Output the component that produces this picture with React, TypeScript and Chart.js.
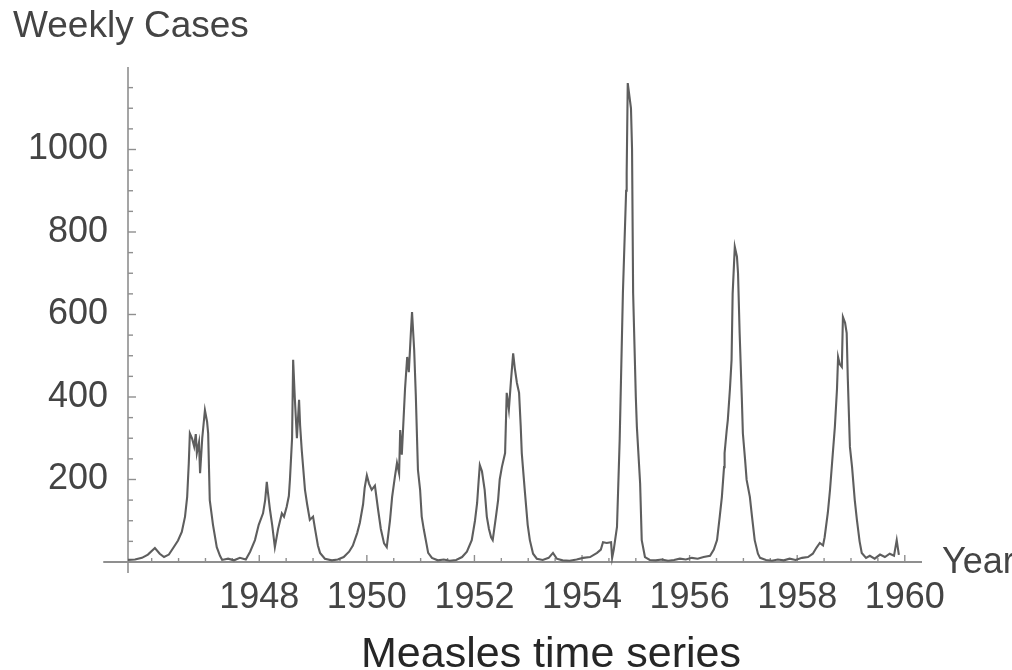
import React, { useEffect, useRef } from 'react';
import { Chart, registerables } from 'chart.js';

Chart.register(...registerables);

// Weekly measles cases (time in years)
const YEARS = [
  1945.56, 1945.69, 1945.82, 1945.93, 1946.06, 1946.15, 1946.23, 1946.32, 1946.40, 1946.49,
  1946.56, 1946.62, 1946.66, 1946.69, 1946.71, 1946.75, 1946.79, 1946.82, 1946.84, 1946.88,
  1946.90, 1946.94, 1946.99, 1947.03, 1947.05, 1947.08, 1947.14, 1947.21, 1947.27, 1947.31,
  1947.42, 1947.53, 1947.64, 1947.75, 1947.83, 1947.92, 1947.99, 1948.07, 1948.11, 1948.14,
  1948.16, 1948.20, 1948.24, 1948.29, 1948.35, 1948.42, 1948.46, 1948.51, 1948.55, 1948.57,
  1948.61, 1948.63, 1948.66, 1948.70, 1948.74, 1948.76, 1948.79, 1948.85, 1948.89, 1948.94,
  1949.00, 1949.04, 1949.09, 1949.13, 1949.22, 1949.35, 1949.46, 1949.57, 1949.67, 1949.74,
  1949.82, 1949.87, 1949.93, 1949.96, 1950.00, 1950.04, 1950.09, 1950.15, 1950.21, 1950.26,
  1950.32, 1950.37, 1950.43, 1950.47, 1950.52, 1950.56, 1950.60, 1950.62, 1950.65, 1950.71,
  1950.75, 1950.78, 1950.82, 1950.84, 1950.88, 1950.91, 1950.95, 1950.99, 1951.02, 1951.06,
  1951.14, 1951.21, 1951.32, 1951.43, 1951.54, 1951.66, 1951.77, 1951.86, 1951.95, 1952.01,
  1952.05, 1952.08, 1952.10, 1952.14, 1952.19, 1952.23, 1952.27, 1952.31, 1952.34, 1952.40,
  1952.44, 1952.47, 1952.51, 1952.57, 1952.60, 1952.64, 1952.68, 1952.72, 1952.75, 1952.79,
  1952.83, 1952.86, 1952.88, 1952.94, 1952.99, 1953.03, 1953.09, 1953.16, 1953.27, 1953.38,
  1953.46, 1953.53, 1953.64, 1953.77, 1953.90, 1954.02, 1954.15, 1954.28, 1954.35, 1954.39,
  1954.46, 1954.54, 1954.56, 1954.59, 1954.65, 1954.70, 1954.76, 1954.82, 1954.83, 1954.85,
  1954.91, 1954.93, 1954.95, 1955.00, 1955.02, 1955.08, 1955.11, 1955.17, 1955.26, 1955.37,
  1955.48, 1955.60, 1955.71, 1955.82, 1955.93, 1956.04, 1956.15, 1956.26, 1956.38, 1956.45,
  1956.51, 1956.56, 1956.60, 1956.64, 1956.65, 1956.69, 1956.71, 1956.75, 1956.78, 1956.80,
  1956.84, 1956.88, 1956.90, 1956.93, 1956.97, 1956.99, 1957.03, 1957.06, 1957.12, 1957.16,
  1957.21, 1957.27, 1957.31, 1957.42, 1957.53, 1957.64, 1957.75, 1957.86, 1957.97, 1958.09,
  1958.20, 1958.29, 1958.36, 1958.42, 1958.48, 1958.51, 1958.57, 1958.61, 1958.66, 1958.70,
  1958.74, 1958.76, 1958.79, 1958.83, 1958.85, 1958.89, 1958.92, 1958.94, 1958.98, 1959.02,
  1959.07, 1959.11, 1959.16, 1959.20, 1959.28, 1959.35, 1959.44, 1959.54, 1959.63, 1959.72,
  1959.80, 1959.85, 1959.89,
];

const CASES = [
  5, 6, 10, 18, 34, 20, 12, 18, 34, 52,
  73, 110, 158, 240, 312, 300, 280, 310, 264, 290,
  215, 300, 368, 340, 312, 150, 90, 36, 15, 5,
  8, 4, 10, 6, 25, 53, 90, 118, 150, 194,
  170, 126, 90, 36, 80, 118, 110, 134, 160, 199,
  300, 490, 400, 300, 393, 330, 271, 175, 140, 102,
  110, 78, 40, 22, 8, 4, 6, 12, 25, 40,
  70, 95, 140, 180, 210, 190, 175, 185, 126, 80,
  45, 36, 100, 158, 205, 240, 215, 320, 260, 420,
  497, 460, 560, 606, 514, 405, 223, 175, 110, 78,
  22, 10, 4, 6, 3, 5, 12, 25, 53, 100,
  143, 200, 235, 220, 175, 110, 80, 60, 53, 110,
  150, 200, 230, 264, 410, 370, 441, 506, 470, 434,
  410, 330, 264, 167, 90, 53, 20, 8, 5, 10,
  22, 8, 4, 3, 6, 10, 12, 22, 30, 48,
  46, 48, 10, 30, 85, 296, 652, 900, 943, 1161,
  1100, 1000, 652, 400, 327, 191, 53, 12, 5, 4,
  6, 3, 5, 8, 6, 10, 8, 12, 15, 30,
  53, 110, 158, 230, 264, 320, 344, 420, 490, 650,
  764, 740, 700, 555, 400, 312, 250, 199, 158, 110,
  53, 20, 10, 5, 3, 6, 4, 8, 5, 10,
  12, 20, 35, 46, 40, 60, 120, 175, 260, 327,
  420, 497, 480, 473, 594, 580, 555, 448, 279, 230,
  150, 102, 50, 22, 10, 15, 8, 18, 12, 20,
  15, 53, 17,
];

const X_TICKS = [1948, 1950, 1952, 1954, 1956, 1958, 1960];
const Y_TICKS = [200, 400, 600, 800, 1000];
const X_MINOR_STEP = 0.5;
const Y_MINOR_STEP = 50;

// axis extents (data units)
const X_MIN = 1945.56; // where the vertical axis sits
const X_MAX = 1960.32;
const X_AXIS_FROM = 1945.1;
const Y_MIN = -26.7;
const Y_MAX = 1200;

const TITLE = 'Measles time series';
const Y_LABEL = 'Weekly Cases';
const X_LABEL = 'Year';

const FONT = '"Liberation Sans", Arial, Helvetica, sans-serif';
const AXIS_COLOR = '#8f8f8f';
const TEXT_COLOR = '#444444';
const LINE_COLOR = '#5e5e5e';

const mathAxes = {
  id: 'mathAxes',
  beforeDatasetsDraw(chart: any) {
    const { ctx } = chart;
    const xs = chart.scales.x;
    const ys = chart.scales.y;
    const y0 = ys.getPixelForValue(0);
    const xA = xs.getPixelForValue(X_MIN);
    ctx.save();
    ctx.strokeStyle = AXIS_COLOR;
    ctx.lineWidth = 2;
    ctx.beginPath();
    ctx.moveTo(xs.getPixelForValue(X_AXIS_FROM), y0);
    ctx.lineTo(xs.getPixelForValue(X_MAX), y0);
    ctx.stroke();
    ctx.lineWidth = 1.6;
    ctx.beginPath();
    ctx.moveTo(xA, ys.getPixelForValue(Y_MIN));
    ctx.lineTo(xA, ys.getPixelForValue(Y_MAX));
    ctx.stroke();
    // x ticks (pointing up)
    ctx.lineWidth = 1.4;
    for (let v = 1946; v <= X_TICKS[X_TICKS.length - 1] + 1e-6; v += X_MINOR_STEP) {
      const major = X_TICKS.some((t) => Math.abs(t - v) < 1e-6);
      const px = xs.getPixelForValue(v);
      ctx.beginPath();
      ctx.moveTo(px, y0);
      ctx.lineTo(px, y0 - (major ? 7 : 4));
      ctx.stroke();
    }
    // y ticks (pointing right)
    for (let v = Y_MINOR_STEP; v < Y_MAX; v += Y_MINOR_STEP) {
      const major = Y_TICKS.includes(v);
      const py = ys.getPixelForValue(v);
      ctx.beginPath();
      ctx.moveTo(xA, py);
      ctx.lineTo(xA + (major ? 8 : 5), py);
      ctx.stroke();
    }
    ctx.restore();
  },
  afterDraw(chart: any) {
    const { ctx } = chart;
    const xs = chart.scales.x;
    const ys = chart.scales.y;
    const y0 = ys.getPixelForValue(0);
    ctx.save();
    ctx.fillStyle = TEXT_COLOR;
    ctx.textBaseline = 'alphabetic';
    ctx.textAlign = 'left';
    ctx.font = `37px ${FONT}`;
    ctx.fillText(Y_LABEL, 13, 37);
    ctx.font = `36px ${FONT}`;
    ctx.fillText(X_LABEL, xs.getPixelForValue(X_MAX) + 20, y0 + 11);
    ctx.fillStyle = '#262626';
    ctx.textAlign = 'center';
    ctx.font = `43px ${FONT}`;
    ctx.fillText(TITLE, 551, 667);
    ctx.restore();
  },
};

export default function App() {
  const ref = useRef<HTMLCanvasElement | null>(null);
  useEffect(() => {
    document.body.style.margin = '0';
    const canvas = ref.current;
    if (!canvas) return;
    const chart = new Chart(canvas, {
      type: 'line',
      data: {
        datasets: [
          {
            data: YEARS.map((x, i) => ({ x, y: CASES[i] })),
            borderColor: LINE_COLOR,
            borderWidth: 2.1,
            pointRadius: 0,
            tension: 0,
            fill: false,
          },
        ],
      },
      options: {
        responsive: false,
        animation: false,
        layout: { padding: { top: 67, right: 90, left: 0, bottom: 0 } },
        plugins: { legend: { display: false }, tooltip: { enabled: false }, title: { display: false } },
        scales: {
          x: {
            type: 'linear',
            min: X_MIN,
            max: X_MAX,
            afterBuildTicks: (s: any) => {
              s.ticks = X_TICKS.map((value) => ({ value }));
            },
            afterFit: (s: any) => {
              s.height = 97;
            },
            grid: { display: false, drawTicks: false },
            border: { display: false },
            ticks: {
              autoSkip: false,
              maxRotation: 0,
              padding: 3,
              color: TEXT_COLOR,
              font: { family: FONT, size: 36 },
              callback: (v: any) => String(v),
            },
          },
          y: {
            type: 'linear',
            min: Y_MIN,
            max: Y_MAX,
            afterBuildTicks: (s: any) => {
              s.ticks = Y_TICKS.map((value) => ({ value }));
            },
            afterFit: (s: any) => {
              s.width = 128;
            },
            grid: { display: false, drawTicks: false },
            border: { display: false },
            ticks: {
              padding: 20,
              color: TEXT_COLOR,
              font: { family: FONT, size: 36 },
              callback: (v: any) => String(v),
            },
          },
        },
      },
      plugins: [mathAxes],
    });
    return () => chart.destroy();
  }, []);
  return (
    <div style={{ position: 'absolute', left: 0, top: 0, width: 1012, height: 670, background: '#fff' }}>
      <canvas ref={ref} width={1012} height={670} />
    </div>
  );
}
